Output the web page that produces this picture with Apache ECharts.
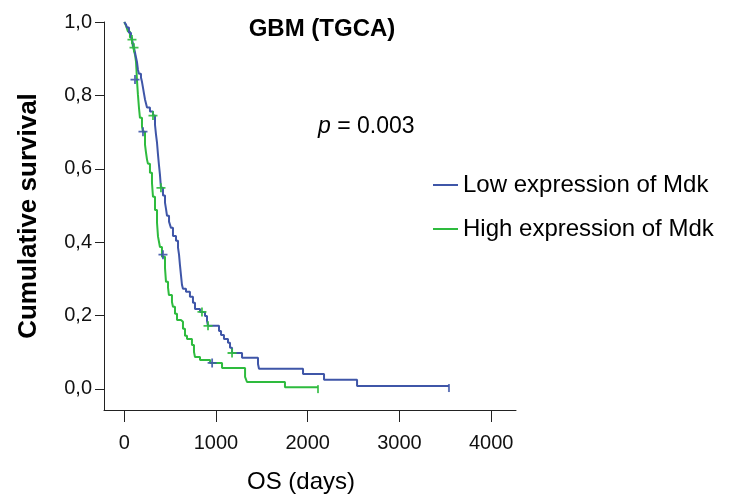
<!DOCTYPE html>
<html>
<head>
<meta charset="utf-8">
<script src="https://cdn.jsdelivr.net/npm/echarts@6/dist/echarts.min.js"></script>
<style>html,body{margin:0;padding:0;background:#fff}#c{width:735px;height:499px}</style>
</head>
<body>
<div id="c"></div>
<script>
// Low expression of Mdk (Kaplan-Meier step points: time in days, cumulative survival)
var lowTime = [0,19,29,51,73,84,95,106,117,128,138,149,160,182,193,204,215,226,237,248,280,313,335,346,357,368,378,389,400,422,444,455,466,488,509,531,564,586,597,607,618,629,640,673,716,749,771,826,880,902,913,1033,1055,1087,1131,1153,1175,1284,1458,1469,1949,2178,2538,3540];
var lowSurv = [1.0,0.993,0.985,0.971,0.960,0.952,0.941,0.930,0.917,0.903,0.892,0.870,0.859,0.849,0.837,0.821,0.805,0.789,0.778,0.767,0.756,0.745,0.720,0.693,0.671,0.638,0.611,0.584,0.548,0.527,0.508,0.491,0.472,0.456,0.439,0.417,0.404,0.385,0.366,0.338,0.311,0.284,0.273,0.265,0.251,0.235,0.218,0.210,0.199,0.186,0.172,0.158,0.147,0.136,0.126,0.112,0.098,0.085,0.068,0.055,0.041,0.025,0.008,0.008];
// High expression of Mdk
var highTime = [0,19,40,62,84,95,106,117,128,133,138,149,160,171,193,204,226,237,248,258,280,302,313,335,357,368,389,411,444,455,477,487,520,531,553,575,618,640,662,684,738,760,771,826,936,1066,1317,1338,1752,2112];
var highSurv = [1.0,0.990,0.974,0.958,0.947,0.933,0.922,0.911,0.892,0.870,0.843,0.802,0.767,0.739,0.715,0.701,0.666,0.644,0.625,0.614,0.589,0.562,0.524,0.488,0.453,0.415,0.387,0.360,0.330,0.292,0.276,0.256,0.237,0.224,0.205,0.188,0.183,0.164,0.145,0.136,0.120,0.101,0.087,0.079,0.071,0.057,0.033,0.019,0.005,0.005];
// Censored observations (marks)
var lowCensorTime = [84,106,313,400,847,913,1175];
var lowCensorSurv = [0.952,0.930,0.745,0.548,0.210,0.172,0.098];
var highCensorTime = [117,204,422,958];
var highCensorSurv = [0.843,0.701,0.366,0.071];
// Axis ticks
var xTicks = [0,1000,2000,3000,4000];
var yTicks = [0,0.2,0.4,0.6,0.8,1.0];

var BLUE = '#3F56A8', GREEN = '#2EBB3E';
var FONT = '"Liberation Sans", Arial, sans-serif';
var plus = 'path://M0,4H10V6H0Z M4,0H6V10H4Z';
var bar = 'path://M0,0H2V10H0Z';
function zip(a,b){return a.map(function(v,i){return [v,b[i]];});}

var chart = echarts.init(document.getElementById('c'), null, {renderer:'canvas'});
chart.setOption({
  animation:false,
  backgroundColor:'#fff',
  title:[{
    text:'GBM (TGCA)', left:317, top:12, textAlign:'center',
    textStyle:{fontFamily:FONT, fontWeight:'bold', fontSize:24, color:'#000'}
  },{
    text:'{i|p} = 0.003', left:313, top:110,
    textStyle:{fontFamily:FONT, fontWeight:'normal', fontSize:23, color:'#000',
      rich:{i:{fontFamily:FONT, fontStyle:'italic', fontWeight:'normal', fontSize:23, color:'#000'}}}
  }],
  legend:{
    orient:'vertical', left:433, top:173, itemGap:20, padding:0,
    itemWidth:25, itemHeight:2, icon:'rect',
    data:['Low expression of Mdk','High expression of Mdk'],
    textStyle:{fontFamily:FONT, fontSize:24, color:'#000'}
  },
  grid:{left:104, right:219, top:22, bottom:89},
  xAxis:{
    type:'value', min:-221, max:4271,
    name:'OS (days)', nameLocation:'middle', nameGap:60,
    nameTextStyle:{fontFamily:FONT, fontSize:24, color:'#000', padding:[0,18,0,0]},
    axisLine:{show:true, onZero:false, lineStyle:{color:'#222', width:1}},
    axisTick:{show:true, length:12, customValues:xTicks, lineStyle:{color:'#222'}},
    axisLabel:{customValues:xTicks, margin:23, fontFamily:FONT, fontSize:20, color:'#111',
      formatter:function(v){return String(Math.round(v));}},
    splitLine:{show:false}
  },
  yAxis:{
    type:'value', min:-0.0573, max:1.0,
    name:'Cumulative survival', nameLocation:'middle', nameGap:62,
    nameTextStyle:{fontFamily:FONT, fontSize:26, fontWeight:'bold', color:'#000'},
    axisLine:{show:true, onZero:false, lineStyle:{color:'#222', width:1}},
    axisTick:{show:true, length:9, customValues:yTicks, lineStyle:{color:'#222'}},
    axisLabel:{customValues:yTicks, margin:12, fontFamily:FONT, fontSize:20, color:'#111',
      formatter:function(v){return v.toFixed(1).replace('.',',');}},
    splitLine:{show:false}
  },
  series:[
    {name:'Low expression of Mdk', type:'line', step:'end', data:zip(lowTime,lowSurv),
      showSymbol:false, symbol:'none', color:BLUE, lineStyle:{color:BLUE, width:2}, z:3},
    {name:'High expression of Mdk', type:'line', step:'end', data:zip(highTime,highSurv),
      showSymbol:false, symbol:'none', color:GREEN, lineStyle:{color:GREEN, width:2}, z:2},
    {name:'lowCensor', type:'scatter', data:zip(lowCensorTime,lowCensorSurv),
      symbol:plus, symbolSize:9, itemStyle:{color:GREEN, opacity:0.9}, z:4},
    {name:'highCensor', type:'scatter', data:zip(highCensorTime,highCensorSurv),
      symbol:plus, symbolSize:9, itemStyle:{color:BLUE, opacity:0.9}, z:4},
    {name:'lowEnd', type:'scatter', data:[[lowTime[lowTime.length-1], lowSurv[lowSurv.length-1]]],
      symbol:bar, symbolSize:[2,8], symbolOffset:[0,2], itemStyle:{color:BLUE}, z:4},
    {name:'highEnd', type:'scatter', data:[[highTime[highTime.length-1], highSurv[highSurv.length-1]]],
      symbol:bar, symbolSize:[2,8], symbolOffset:[0,2], itemStyle:{color:GREEN}, z:4}
  ]
});
</script>
</body>
</html>
